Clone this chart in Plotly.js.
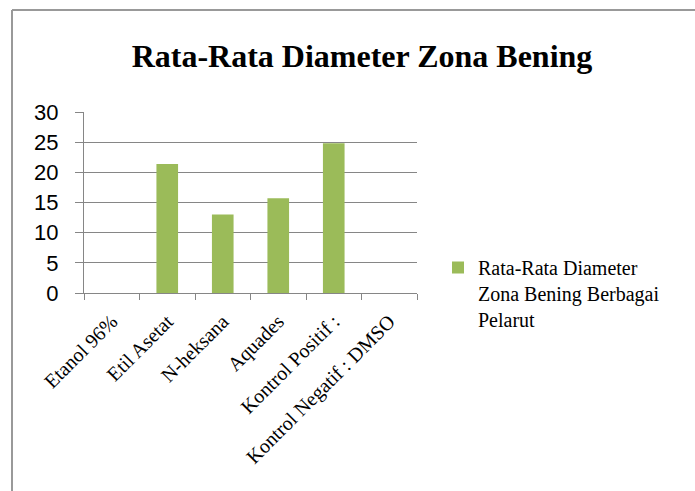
<!DOCTYPE html>
<html>
<head>
<meta charset="utf-8">
<script src="https://cdn.plot.ly/plotly-3.0.1.min.js"></script>
<style>
  html, body { margin: 0; padding: 0; background: #ffffff; }
  #chart { width: 695px; height: 491px; }
</style>
</head>
<body>
<div id="chart"></div>
<script>
// ---- data ----
const categories = ['Etanol 96%', 'Etil Asetat', 'N-heksana', 'Aquades', 'Kontrol Positif :', 'Kontrol Negatif : DMSO'];
const values = [0, 21.4, 13.0, 15.7, 24.8, 0];
const seriesName = 'Rata-Rata Diameter<br>Zona Bening Berbagai<br>Pelarut';
const chartTitle = 'Rata-Rata Diameter Zona Bening';
const yTicks = [0, 5, 10, 15, 20, 25, 30];

// ---- layout geometry (pixels) ----
const W = 695, H = 491;
const plotL = 84, plotR = 417, plotT = 112, plotB = 293;
const pw = plotR - plotL, ph = plotB - plotT;
const px = v => (v - plotL) / pw;
const py = v => (plotB - v) / ph;

const gray = '#868686';
const serif = '"Liberation Serif", "Times New Roman", serif';
const sans = '"Liberation Sans", Arial, sans-serif';

const trace = {
  type: 'bar',
  x: categories,
  y: values,
  name: seriesName,
  marker: { color: '#9BBB59' },
  showlegend: true
};

const layout = {
  width: W, height: H,
  margin: { l: plotL, r: W - plotR, t: plotT, b: H - plotB, pad: 0 },
  paper_bgcolor: '#ffffff',
  plot_bgcolor: '#ffffff',
  bargap: 0.61,
  title: {
    text: '<b>' + chartTitle + '</b>',
    font: { family: serif, size: 32, color: '#000000' },
    xref: 'paper', x: px(362), xanchor: 'center',
    yref: 'container', y: 1 - 56 / H, yanchor: 'middle'
  },
  xaxis: {
    type: 'category',
    tickson: 'boundaries',
    ticks: 'outside', ticklen: 6, tickcolor: gray, tickwidth: 1,
    showline: true, linecolor: gray, linewidth: 1,
    showgrid: false,
    tickangle: -45,
    tickfont: { family: serif, size: 20, color: '#000000' },
    ticklabelstandoff: 8,
    fixedrange: true
  },
  yaxis: {
    range: [0, 30],
    tickvals: yTicks,
    ticktext: yTicks.map(String),
    ticks: 'outside', ticklen: 8, tickcolor: gray, tickwidth: 1,
    showline: true, linecolor: gray, linewidth: 1,
    showgrid: true, gridcolor: gray, gridwidth: 1,
    zeroline: false,
    tickfont: { family: sans, size: 22, color: '#000000' },
    ticklabelstandoff: 12,
    fixedrange: true
  },
  showlegend: true,
  legend: {
    xref: 'container', yref: 'container',
    x: 438 / W, y: 1 - 248 / H,
    xanchor: 'left', yanchor: 'top',
    valign: 'top',
    font: { family: serif, size: 20, color: '#000000' },
    bgcolor: 'rgba(0,0,0,0)'
  },
  shapes: [
    { type: 'line', xref: 'paper', yref: 'paper', x0: px(12), x1: px(700), y0: py(10), y1: py(10), line: { color: '#999999', width: 2 } },
    { type: 'line', xref: 'paper', yref: 'paper', x0: px(12), x1: px(12), y0: py(10), y1: py(500), line: { color: '#999999', width: 2 } }
  ]
};

Plotly.newPlot('chart', [trace], layout, { displayModeBar: false, staticPlot: true });
</script>
</body>
</html>
